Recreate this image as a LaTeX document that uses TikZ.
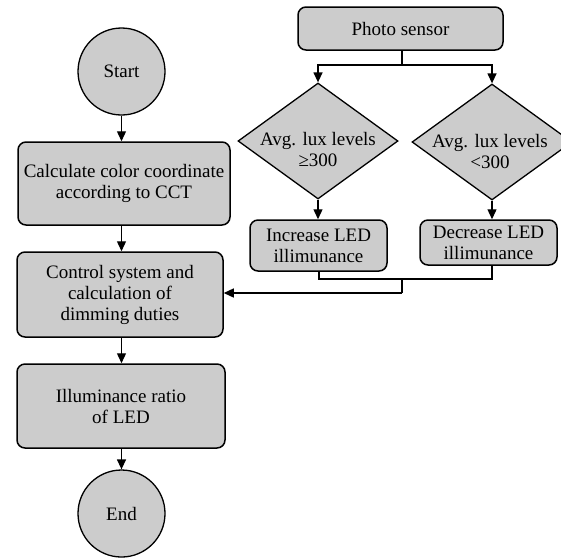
\documentclass[tikz,border=0pt]{standalone}
\usepackage{fontspec}
\setmainfont{Liberation Serif}
\usetikzlibrary{shapes.geometric,arrows.meta}
\begin{document}
\begin{tikzpicture}[x=1pt,y=-1pt,
  every node/.style={font=\fontsize{19}{21}\selectfont, align=center},
  boxst/.style={draw, line width=1.5pt, fill=gray!40, rounded corners=8pt, inner sep=0pt},
  circst/.style={draw, line width=1.3pt, fill=gray!40, circle, inner sep=0pt, minimum size=87pt},
  diast/.style={draw, line width=1.3pt, fill=gray!40, diamond, inner sep=0pt, minimum width=160pt, minimum height=116pt},
  txt/.style={inner sep=0pt},
  conn/.style={line width=1.3pt},
  arr/.style={conn, -{Triangle[length=10pt,width=9pt]}}]
\useasboundingbox (0,0) rectangle (561,558);
% left column
\node[circst] (start) at (121.5,71.5) {Start};
\node[boxst, minimum width=212pt, minimum height=83pt] (b1) at (124,183.5) {Calculate color coordinate\\according to CCT};
\node[boxst, minimum width=206pt, minimum height=85pt] (b2) at (120,294.5) {Control system and\\calculation of\\dimming duties};
\node[boxst, minimum width=208pt, minimum height=84pt] (b3) at (121,406) {Illuminance ratio\\of LED};
\node[circst] (end) at (121.5,513.5) {End};
% right column
\node[boxst, minimum width=205pt, minimum height=43pt] (ps) at (400.5,28.5) {Photo sensor};
\node[diast] (d1) at (318,141) {};
\node[txt] (d1t) at (318,149) {Avg. lux levels\\≥300};
\node[diast] (d2) at (492,142) {};
\node[txt] (d2t) at (490,151) {Avg. lux levels\\<300};
\node[boxst, minimum width=137pt, minimum height=51pt] (inc) at (318.5,245.5) {Increase LED\\illimunance};
\node[boxst, minimum width=137pt, minimum height=45pt] (dec) at (488.5,242.5) {Decrease LED\\illimunance};
% connectors left
\draw[arr] (start.south) -- (start.south |- b1.north);
\draw[arr] (b1.south -| start.south) -- (start.south |- b2.north);
\draw[arr] (b2.south -| start.south) -- (start.south |- b3.north);
\draw[arr] (b3.south -| start.south) -- (end.north);
% connectors right
\coordinate (sp) at (402,65);
\draw[conn] (ps.south -| sp) -- (sp);
\draw[arr] (sp) -| (d1.north);
\draw[arr] (sp) -| (d2.north);
\draw[arr] (d1.south) -- (d1.south |- inc.north);
\draw[arr] (d2.south) -- (d2.south |- dec.north);
\coordinate (jl) at (319,279);
\coordinate (jr) at (492,279);
\coordinate (m) at (402,279);
\coordinate (fb) at (402,293);
\draw[conn] (inc.south -| jl) -- (jl) -- (jr) -- (dec.south -| jr);
\draw[conn] (m) -- (fb);
\draw[arr] (fb) -- (fb -| b2.east);
\end{tikzpicture}
\end{document}
